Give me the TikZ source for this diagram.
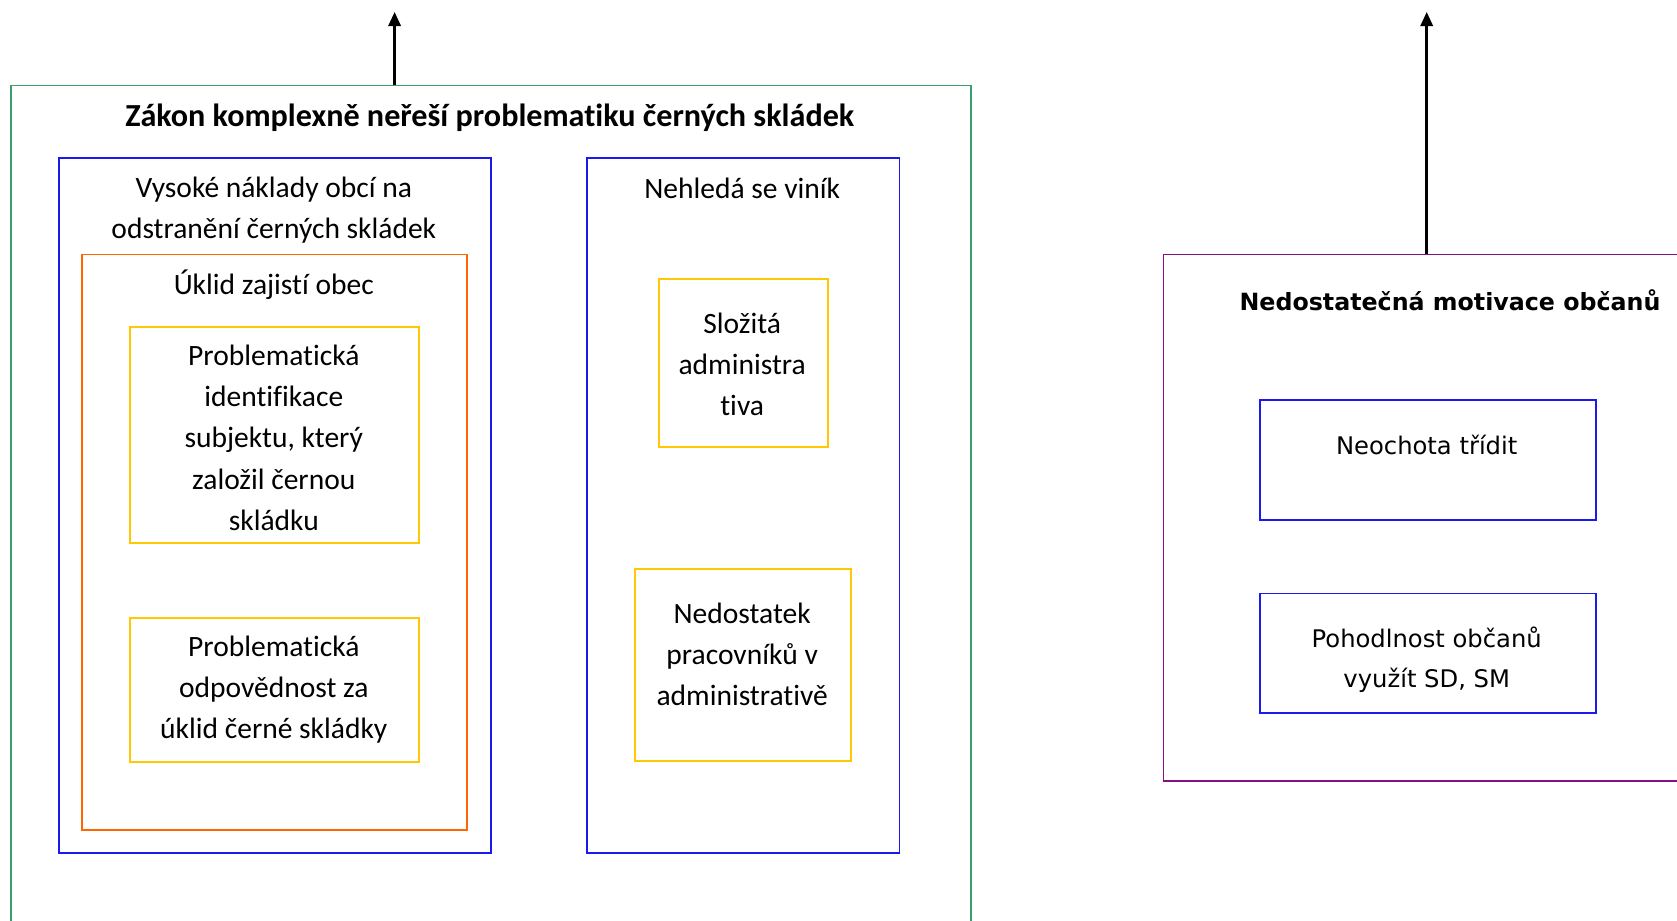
\documentclass[tikz,border=0pt]{standalone}
\usepackage{fontspec}
\setmainfont[Ligatures=NoCommon]{Carlito}
\newfontfamily\dejavu{DejaVu Sans}
\usetikzlibrary{arrows.meta}

\definecolor{zelena}{RGB}{60,160,110}
\definecolor{modra}{RGB}{25,25,240}
\definecolor{oranzova}{RGB}{255,102,0}
\definecolor{zluta}{RGB}{255,200,0}
\definecolor{fialova}{RGB}{135,15,135}

\tikzset{
	schema/.style={
			x=0.02cm, y=-0.02cm,
			box/.style={draw, line width=1.1pt, anchor=north west, inner sep=0pt},
			zbox/.style={box, draw=zelena},
			mbox/.style={box, draw=modra},
			obox/.style={box, draw=oranzova},
			ybox/.style={box, draw=zluta},
			fbox/.style={box, draw=fialova},
			txt/.style={anchor=north, inner sep=0pt, align=center, font=\fontsize{16.8}{23.5}\selectfont},
			htxt/.style={txt, font=\fontsize{18.3}{23.5}\selectfont\bfseries},
			rtxt/.style={anchor=north, inner sep=0pt, align=center, font=\dejavu\fontsize{13.8}{23}\selectfont},
			rhtxt/.style={rtxt, font=\dejavu\fontsize{13.5}{23}\selectfont\bfseries},
			arr/.style={line width=1.4pt, -{Triangle[width=7pt,length=8pt]}},
		}
}

\begin{document}
\begin{tikzpicture}[schema]
	\useasboundingbox (0,0) rectangle (1677,920);
	\clip (0,0) rectangle (1677,920);

	% levy blok
	\node[zbox, minimum width=19.21cm, minimum height=17.2cm] (zakon) at (9.6,84.5) {};
	\node[htxt] (zakont) at (489.8,104) {Zákon komplexně neřeší problematiku černých skládek};

	\node[mbox, minimum width=8.64cm, minimum height=13.9cm] (naklady) at (57.8,157.2) {};
	\node[txt] (nakladyt) at (273.8,176.5) {Vysoké náklady obcí na\\odstranění černých skládek};

	\node[obox, minimum width=7.7cm, minimum height=11.51cm] (uklid) at (81.3,253.5) {};
	\node[txt] (uklidt) at (273.8,269.5) {Úklid zajistí obec};

	\node[ybox, minimum width=5.78cm, minimum height=4.32cm] (ident) at (129.4,326.2) {};
	\node[txt] (identt) at (273.8,344.5) {Problematická\\identifikace\\subjektu, který\\založil černou\\skládku};

	\node[ybox, minimum width=5.78cm, minimum height=2.87cm] (odpov) at (129.4,617.1) {};
	\node[txt] (odpovt) at (273.8,635.5) {Problematická\\odpovědnost za\\úklid černé skládky};

	\node[mbox, minimum width=6.25cm, minimum height=13.9cm] (vinik) at (586.1,157.2) {};
	\node[txt] (vinikt) at (742.2,177.5) {Nehledá se viník};

	\node[ybox, minimum width=3.38cm, minimum height=3.36cm] (admin) at (657.7,278) {};
	\node[txt] (admint) at (742.2,312.5) {Složitá\\administra\\tiva};

	\node[ybox, minimum width=4.32cm, minimum height=3.85cm] (prac) at (634.2,567.9) {};
	\node[txt] (pract) at (742.2,602.5) {Nedostatek\\pracovníků v\\administrativě};

	% pravy blok
	\node[fbox, minimum width=10.9cm, minimum height=10.54cm] (motiv) at (1162.5,253.5) {};
	\node[rhtxt] (motivt) at (1450,289.5) {Nedostatečná motivace občanů};

	\node[mbox, minimum width=6.72cm, minimum height=2.4cm] (neochota) at (1258.8,398.9) {};
	\node[rtxt] (neochotat) at (1426.7,435) {Neochota třídit};

	\node[mbox, minimum width=6.72cm, minimum height=2.4cm] (pohodl) at (1258.8,592.5) {};
	\node[rtxt] (pohodlt) at (1426.7,626.5) {Pohodlnost občanů\\využít SD, SM};

	% sipky
	\coordinate (vrchA) at (394.6,12);
	\coordinate (vrchB) at (1426.7,12);
	\draw[arr] (zakon.north -| vrchA) -- (vrchA);
	\draw[arr] (motiv.north -| vrchB) -- (vrchB);
\end{tikzpicture}
\end{document}
